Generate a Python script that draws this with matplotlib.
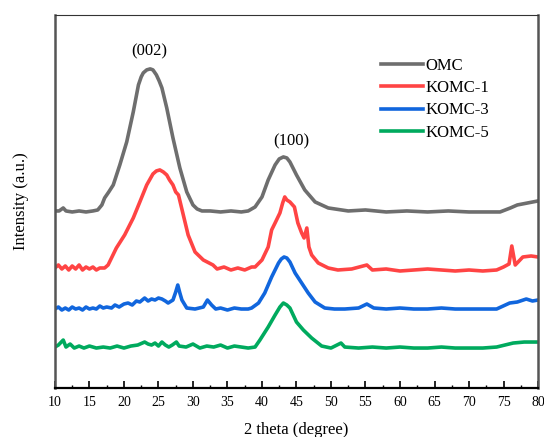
"""XRD patterns of OMC and KOMC-x samples."""

import matplotlib
matplotlib.use("Agg")
import matplotlib.pyplot as plt
from matplotlib.ticker import MultipleLocator

plt.rcParams["font.family"] = ["Liberation Serif", "DejaVu Serif"]

# values (2 theta in degree, intensity in a.u.)
omc_2theta = [10, 10.6, 11.2, 11.6, 12.5, 13.5, 14.5, 15.5, 16.2, 16.8, 17.2,
              17.8, 18.45, 19.4, 20.4, 21.35, 22.1, 22.5, 22.8, 23.3, 23.8,
              24.2, 24.7, 25.1, 25.5, 26.2, 27.1, 28.1, 29.1, 30.0, 30.6, 31.3,
              32.5, 34, 35.5, 37, 38, 39, 40, 40.9, 41.9, 42.5, 43.1, 43.6,
              44.05, 45.0, 46.2, 47.7, 49.6, 52.5, 55, 58, 61, 64, 67, 70,
              72.5, 74.5, 76, 77, 78.5, 80]
omc_int = [177, 177, 180, 177, 176, 177, 176, 177, 178, 183, 190,
           196, 203, 223, 246, 276, 303, 311, 315, 318, 319,
           318, 313, 307, 300, 280, 250, 220, 196, 183, 179, 177,
           177, 176, 177, 176, 177, 181, 191, 208, 223, 229, 231, 230,
           226, 213, 198, 186, 180, 177, 178, 176, 177, 176, 177, 176,
           176, 176, 180, 183, 185, 187]

komc1_2theta = [10, 10.5, 11, 11.5, 12, 12.5, 13, 13.5, 14, 14.5, 15, 15.5, 16,
                16.5, 17.2, 17.7, 18.9, 20.1, 21.35, 22.3, 23.3, 24.2, 24.7,
                25.2, 25.7, 26.2, 26.6, 27.1, 27.5, 27.9, 28.6, 29.3, 30.3,
                31.5, 32.9, 33.5, 34.5, 35.5, 36.5, 37.5, 38.5, 39, 40.0, 40.9,
                41.4, 41.9, 42.6, 43.0, 43.3, 43.6, 44.05, 44.7, 45.2, 45.75,
                46.1, 46.5, 46.8, 47.2, 48.15, 49.6, 51, 53, 55.2, 56, 58, 60,
                62, 64, 66, 68, 70, 72, 74, 75, 75.8, 76.2, 76.7, 77.8, 79, 80]
komc1_int = [120, 123, 119, 122, 118, 122, 119, 123, 118, 121, 119, 121, 118,
             120, 120, 123, 140, 153, 170, 186, 203, 214, 217,
             218, 216, 213, 208, 203, 196, 193, 173, 153, 136,
             128, 123, 119, 121, 118, 120, 118, 121, 121, 128, 141,
             158, 165, 175, 185, 191, 188, 186, 181, 165, 155,
             150, 160, 141, 133, 125, 120, 118, 119, 123, 118, 119, 117,
             118, 119, 118, 117, 118, 117, 118, 121, 124, 142, 123, 131, 132, 131]

komc3_2theta = [10, 10.5, 11, 11.5, 12, 12.5, 13, 13.5, 14, 14.5, 15, 15.5, 16,
                16.5, 17, 17.5, 18.2, 18.7, 19.3, 20, 20.6, 21.2, 21.8, 22.3,
                23.0, 23.5, 24, 24.5, 25, 25.5, 26, 26.4, 27.1, 27.5, 27.8,
                28.1, 28.4, 29.1, 30.3, 31.5, 32.1, 32.7, 33.3, 34, 35, 36, 37,
                38, 38.5, 39.5, 40.4, 41.4, 42.4, 42.8, 43.2, 43.6, 44.05, 44.8,
                45.75, 46.7, 47.7, 49.1, 50.5, 52, 54, 55.2, 56.2, 58, 60, 62,
                64, 66, 68, 70, 72, 74, 75.9, 77, 78.3, 79.2, 80]
komc3_int = [79, 81, 78, 80, 78, 81, 79, 80, 78, 81, 79, 80, 79,
             82, 80, 81, 80, 83, 81, 84, 85, 83, 87, 86,
             90, 87, 89, 88, 90, 89, 87, 85, 88, 96, 103,
             95, 88, 80, 79, 81, 88, 83, 79, 80, 78, 80, 79,
             79, 80, 85, 95, 111, 125, 129, 131, 130, 126, 115,
             105, 95, 86, 80, 79, 79, 80, 84, 80, 79, 80, 79,
             79, 80, 79, 79, 79, 79, 85, 86, 89, 87, 88]

komc5_2theta = [10, 10.5, 11.2, 11.6, 12.2, 12.8, 13.5, 14.2, 15, 16, 17, 18,
                19, 20, 21, 22, 23, 23.5, 24, 24.5, 25, 25.5, 26, 26.5, 27,
                27.6, 28, 29, 30, 31, 32, 33, 34, 35, 36, 37, 38, 39, 39.7,
                40.9, 41.9, 42.6, 43.1, 43.6, 44.05, 45.0, 46.0, 47.2, 48.65,
                50, 51.45, 52, 54, 56, 58, 60, 62, 64, 66, 68, 70, 72, 74,
                76.4, 78, 80]
komc5_int = [41, 43, 48, 41, 44, 40, 42, 40, 42, 40, 41, 40,
             42, 40, 42, 43, 46, 44, 43, 45, 42, 46, 43, 41, 43,
             46, 42, 41, 44, 40, 42, 41, 43, 40, 42, 41, 40, 41, 48,
             61, 73, 81, 85, 83, 80, 66, 58, 50, 42,
             40, 45, 41, 40, 41, 40, 41, 40, 40, 41, 40, 40, 40, 41,
             45, 46, 46]

labels = ["OMC", "KOMC-1", "KOMC-3", "KOMC-5"]
colors = ["#6e6e6e", "#ff4444", "#1166dd", "#00aa5e"]

fig = plt.figure(figsize=(5.44, 4.37), dpi=100)
ax = fig.add_axes([0.101, 0.112, 0.888, 0.854])

series = [(omc_2theta, omc_int), (komc1_2theta, komc1_int),
          (komc3_2theta, komc3_int), (komc5_2theta, komc5_int)]
for (x, y), lab, c in zip(series, labels, colors):
    ax.plot(x, y, color=c, lw=2.6, label=lab, solid_joinstyle="round")

ax.set_xlim(10, 80)
ax.set_ylim(0, 373)
ax.xaxis.set_major_locator(MultipleLocator(5))
ax.xaxis.set_minor_locator(MultipleLocator(2.5))
ax.tick_params(axis="x", which="major", direction="in", length=5, width=1.2,
               labelsize=10, pad=6)
ax.tick_params(axis="x", which="minor", direction="in", length=2.5, width=1.0)
ax.set_yticks([])

for side in ("left", "right"):
    ax.spines[side].set_color("#555555")
    ax.spines[side].set_linewidth(1.8)
ax.spines["bottom"].set_linewidth(1.6)
ax.spines["top"].set_linewidth(0.8)
ax.spines["top"].set_color("#333333")

ax.set_xlabel("2 theta (degree)", fontsize=12, labelpad=9)
ax.set_ylabel("Intensity (a.u.)", fontsize=12, labelpad=19)

ax.text(23.6, 328, "(002)", fontsize=12, ha="center", va="bottom")
ax.text(44.3, 239, "(100)", fontsize=12, ha="center", va="bottom")

ax.legend(loc="upper left", bbox_to_anchor=(0.661, 0.903), frameon=False,
          fontsize=12, handlelength=2.5, handletextpad=0.15, labelspacing=0.38,
          borderaxespad=0.0)

fig.savefig("out.png", dpi=100)
